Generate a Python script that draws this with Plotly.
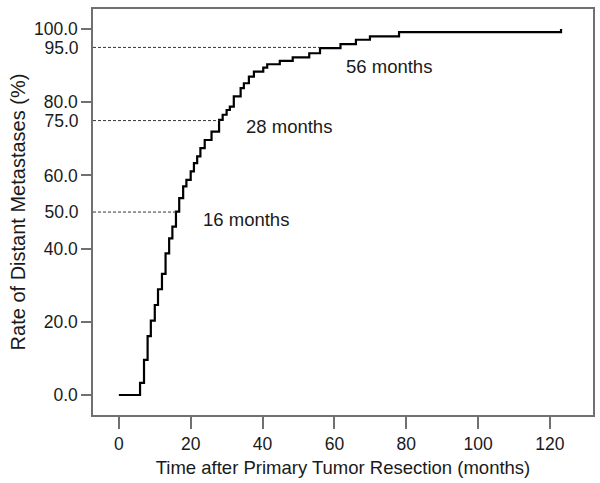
import plotly.graph_objects as go

# Step curve: time (months) at which the cumulative rate jumps, and value after the jump
months = [0, 5.9, 7.0, 8.0, 8.9, 10.0, 10.9, 12.0, 13.0, 14.0, 14.9, 15.9, 16.8, 17.9, 18.8,
          20.0, 20.9, 21.8, 22.7, 23.9, 25.8, 27.9, 28.9, 30.0, 30.9, 32.0, 33.9, 34.8,
          36.2, 37.6, 40.2, 41.3, 44.8, 48.4, 53.0, 56.0, 61.7, 66.0, 69.9, 78.0, 123.1]
rate = [0, 3.3, 9.6, 16.1, 20.3, 24.6, 28.9, 33.1, 38.7, 42.8, 46.0, 50.1, 53.8, 57.0, 58.8,
        61.1, 63.4, 65.2, 67.5, 69.7, 72.0, 75.2, 76.6, 77.9, 78.8, 81.6, 83.9, 85.2,
        87.0, 88.4, 89.5, 90.4, 91.3, 92.3, 93.4, 94.8, 95.9, 97.1, 98.0, 99.2, 100.0]

# Milestones (dashed reference lines + labels)
milestone_pct = [50, 75, 95]
milestone_months = [16, 28, 56]
milestone_labels = ["16 months", "28 months", "56 months"]
label_x = [35.4, 47.5, 75.2]
label_y = [48.1, 73.3, 89.8]

x_ticks = [0, 20, 40, 60, 80, 100, 120]
y_ticks_major = [0, 20, 40, 60, 80, 100]
y_ticks_extra = [50, 75, 95]

FONT = "Liberation Sans, Arial, sans-serif"
TXT = "#1a1a1a"
AX = "#707070"

fig = go.Figure()
fig.add_trace(go.Scatter(x=months, y=rate, mode="lines", line=dict(shape="hv", color="black", width=2.2),
                         showlegend=False, hoverinfo="skip"))
# invisible trace on second y axis to make it render
fig.add_trace(go.Scatter(x=[months[0]], y=[rate[0]], yaxis="y2", mode="markers",
                         marker=dict(opacity=0), showlegend=False, hoverinfo="skip"))

yr = [-5.47, 105.5]
fig.update_layout(
    width=600, height=483,
    margin=dict(l=93, r=7, t=9, b=68),
    paper_bgcolor="white", plot_bgcolor="white",
    font=dict(family=FONT, color=TXT, size=17),
    xaxis=dict(range=[-7.2, 132], tickvals=x_ticks, ticktext=[str(v) for v in x_ticks],
               ticks="outside", ticklen=12, tickwidth=1.5, tickcolor=AX,
               showline=True, linecolor=AX, linewidth=1.5, mirror=True, automargin=False,
               showgrid=False, zeroline=False, tickfont=dict(size=17.5),
               title=dict(text="Time after Primary Tumor Resection (months)", font=dict(size=18.5), standoff=8)),
    yaxis=dict(range=yr, tickvals=y_ticks_major, ticktext=[f"{v:.1f}" for v in y_ticks_major],
               ticks="outside", ticklen=10, tickwidth=1.5, tickcolor=AX,
               showline=True, linecolor=AX, linewidth=1.5, mirror=True, automargin=False,
               showgrid=False, zeroline=False, tickfont=dict(size=17.5),
               title=dict(text="Rate of Distant Metastases (%)", font=dict(size=20), standoff=3)),
    yaxis2=dict(range=yr, overlaying="y", side="left", tickvals=y_ticks_extra,
                ticktext=[f"{v:.1f}" for v in y_ticks_extra], automargin=False,
                ticks="outside", ticklen=10, tickcolor="rgba(0,0,0,0)",
                showline=False, showgrid=False, zeroline=False, tickfont=dict(size=17.5)),
)

for p, m in zip(milestone_pct, milestone_months):
    fig.add_shape(type="line", xref="paper", yref="y", x0=0, x1=(m + 7.2) / (132 + 7.2), y0=p, y1=p,
                  line=dict(color="#333333", width=1, dash="3px,2px"))

for t, lx, ly in zip(milestone_labels, label_x, label_y):
    fig.add_annotation(x=lx, y=ly, xref="x", yref="y", text=t, showarrow=False,
                       font=dict(size=18.5, color=TXT, family=FONT))

fig.write_html("out.html", config={"displayModeBar": False},
               post_script="document.body.style.margin='0';document.body.style.overflow='hidden';")
